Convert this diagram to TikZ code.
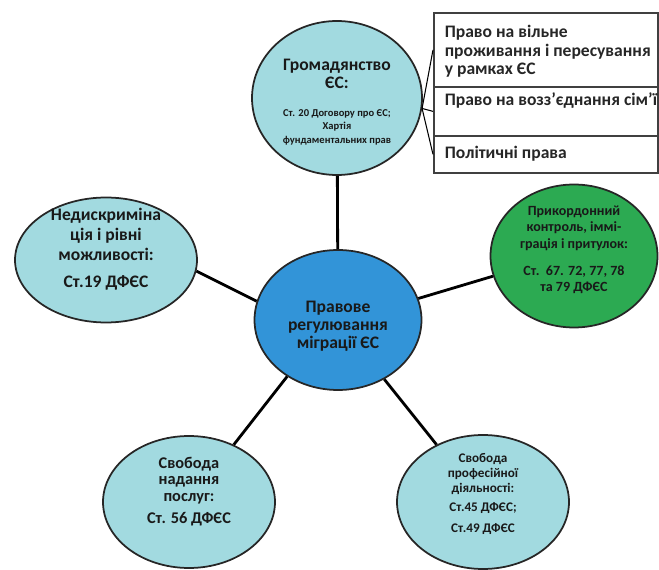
\documentclass[tikz,border=0pt]{standalone}
\usepackage{fontspec}
\setmainfont{Carlito}
\usetikzlibrary{shapes.geometric}
\definecolor{paleteal}{RGB}{162,218,224}
\definecolor{midblue}{RGB}{50,148,216}
\definecolor{leafgreen}{RGB}{44,170,82}
\begin{document}
\begin{tikzpicture}[x=0.02cm,y=-0.02cm,
  every node/.style={font=\bfseries,text=black!90},
  oval/.style={draw=black!85,line width=1pt,ellipse,inner sep=0pt,align=center,fill=paleteal,text depth=0pt},
  box/.style={draw=black!75,line width=1pt,rectangle,inner sep=0pt,minimum width=4.48cm,anchor=north west},
  boxtext/.style={anchor=north west,align=left,inner xsep=6.5pt,inner ysep=4pt,font=\bfseries\fontsize{10}{10.4}\selectfont,text=black!85},
  link/.style={line width=1.6pt},
  thinlink/.style={line width=0.6pt}]
  \useasboundingbox (0,0) rectangle (659,570);

  % centre
  \node[oval,fill=midblue,minimum width=3.34cm,minimum height=2.8cm,text height=32.4pt,font=\bfseries\fontsize{10}{10.2}\selectfont] (m) at (338,320)
    {Правове\\регулювання\\міграції ЄС};

  % around the centre
  \node[oval,minimum width=3.4cm,minimum height=3.08cm,text height=51.4pt,font=\bfseries\fontsize{10}{10.3}\selectfont] (cit) at (337,98)
    {Громадянство\\ЄС:\\[5.7pt]
     \fontsize{6}{7}\selectfont Ст. 20 Договору про ЄС;\\[-2.7pt]
     \fontsize{6}{7}\selectfont Хартія\\[-2.7pt]
     \fontsize{6}{7}\selectfont фундаментальних прав};
  \node[oval,minimum width=3.64cm,minimum height=2.5cm,text height=31.4pt,font=\bfseries\fontsize{10}{11.3}\selectfont] (n) at (106,260)
    {Недискриміна\\ція і рівні\\можливості:\\[4pt]Ст.19 ДФЄС};
  \node[oval,fill=leafgreen,minimum width=3.34cm,minimum height=2.86cm,text height=40.4pt,font=\bfseries\fontsize{8}{9.3}\selectfont] (g) at (574,256)
    {Прикордонний\\контроль, іммі-\\грація і притулок:\\[6pt]Ст.~~67. 72, 77, 78\\та 79 ДФЄС};
  \node[oval,minimum width=3.44cm,minimum height=2.64cm,text height=24.2pt,font=\bfseries\fontsize{9.3}{9.4}\selectfont] (s) at (189,502)
    {Свобода\\надання\\послуг:\\[3pt]Ст. 56 ДФЄС};
  \node[oval,minimum width=3.44cm,minimum height=2.68cm,text height=34.2pt,font=\bfseries\fontsize{7.5}{8.5}\selectfont] (p) at (483,502)
    {Свобода\\професійної\\діяльності:\\[2.3pt]Ст.45 ДФЄС;\\[3.4pt]Ст.49 ДФЄС};

  % boxes
  \node[box,minimum height=1.48cm] (b1) at (433,12) {};
  \node[box,minimum height=0.98cm] (b2) at (433,86) {};
  \node[box,minimum height=0.74cm] (b3) at (433,135) {};
  \node[boxtext,yshift=-3.5pt] (t1) at (b1.north west) {Право на вільне\\проживання і пересування\\у рамках ЄС};
  \node[boxtext,yshift=0.3pt] (t2) at (b2.north west) {Право на возз’єднання сім’ї};
  \node[boxtext,yshift=-2.3pt] (t3) at (b3.north west) {Політичні права};

  \draw[link] (cit) -- (m);
  \draw[link] (m.167) -- (n.-7);
  \draw[link] (m.15) -- (g.194);
  \draw[link] (m.228) -- (s.52);
  \draw[link] (m.-52) -- (p.129);

  \draw[thinlink] (cit.-7) -- (b1.west);
  \draw[thinlink] (cit.-7) -- (b2.west);
  \draw[thinlink] (cit.-7) -- (b3.west);
\end{tikzpicture}
\end{document}
